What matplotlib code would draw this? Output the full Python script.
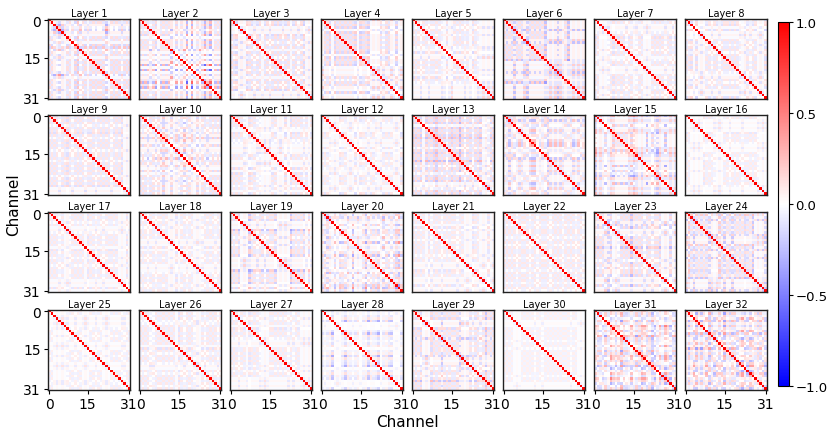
import numpy as np
import matplotlib
matplotlib.use("Agg")
import matplotlib.pyplot as plt

# ---- data ----
n_channels = 32
layer_names = [f"Layer {i}" for i in range(1, 33)]
tick_positions = [0, 15, 31]
tick_labels = ["0", "15", "31"]
cbar_ticks = [1.0, 0.5, 0.0, -0.5, -1.0]
cbar_labels = ["1.0", "0.5", "0.0", "\u22120.5", "\u22121.0"]

# per-layer strength of the off-diagonal texture (value of a unit loading product)
layer_strength = [0.20, 0.18, 0.19, 0.19, 0.15, 0.19, 0.15, 0.16,
                  0.16, 0.18, 0.15, 0.13, 0.19, 0.17, 0.17, 0.12,
                  0.13, 0.13, 0.17, 0.17, 0.13, 0.14, 0.18, 0.17,
                  0.11, 0.14, 0.13, 0.08, 0.17, 0.09, 0.12, 0.12]

# B=-2  b=-1  .=-0.5 (weak)  r=+1  R=+2
loading_u = [
    "r.rbBr.. r.bR.r.. .r.rr.B. r.r.b.r.",
    "r.r.b.r. .r.rR.r. rrB.R.rr .BrR..r.",
    "r.b.r.rr .b.r..r. r.r.b.r. .r.rb.r.",
    "rr.r.br. r.r.rr.b .rr.r.r. b.rr.r.r",
    ".r.b.r.r r.r..b.r .r.r.r.b r..r.r.r",
    "r.r.B.r. rB.r.r.r B.r.rBr. rB.r.r.r",
    "r..r.b.r .r.r.r.. b.r.r..r .r.b.r.r",
    ".rr.b.r. r.b.r.r. .r.r.b.r r.r..r.b",
    "r.r.b.rr .b.r.r.r r.b.r.r. .r.rb.r.",
    "r.r.r.b. rRr.b.r. rRr.r.b. .r.r.r.r",
    ".r.r.b.r r.b..r.r .r.r.r.b r.r.b..r",
    "r.r..r.b .r.r.b.r r.b.r..r .r.r.r.b",
    "r.rb.r.r bR.r.b.r .rBr.r.b r.r.rb.r",
    "r.B.r.rb .rrRRr.. rBr.r.rb .r.b.rr.",
    "r.r.b.rR .r.r.rRR r.r.B.rb .r.B.r.r",
    ".r.r.r.b r.r..r.r .b.r.r.r r.r.b.r.",
    "r.r.b..r .r.r.r.b r.b.r.r. .r..r.r.",
    ".r.b.r.r r.r.r.b. .r.r..r. b.r.r.r.",
    "r.rb.r.B .r.r.b.r rb.r.r.B .r.rb.r.",
    "r.Br.r.b .rr.B.r. rB.r.rb. Rr.b.Rr.",
    "r.r.r.b. .r.b.r.r r.r..r.b .r.r.r.r",
    ".r.r.b.r r.b.r.r. .r.r.r.b r.r.b.r.",
    "r.r.rBb. rb.r.rBr .r.b.r.r rb.r.b.r",
    "rR.B.r.r .Br.rR.B r.B.r.rb .rB.r.rB",
    "r..r.r.b .r.r..r. r.b.r.r. .r.r.b.r",
    ".r.r.b.r r.r.r..r .b.r.br. r.r.r.b.",
    "r.r.r..b .r.b.r.r r.r.r.b. .r..r.r.",
    "r.r.R.r. rR.r.r.. r.R.rrR. r.Rr.r.r",
    "r.rb.r.r .r.B.r.r r.Br.r.b .r.rBr.r",
    ".r.r.r.. r.r.b.r. .r.r.r.r r.b.r.r.",
    "rRrbBrRr RrBRrrRr BRrRRbrB rRbRrBrR",
    "rBrRbrBr RrbBrRrB rbRrBrRb BrRrbRrB",
]
loading_v = [
    ".rr.br.r ..r.b.r. r.r..rb. .r.r.r.r",
    ".r.r.rb. r.r.R.b. .rR.B..r rR.B.r.r",
    ".rr.r.b. r.r..r.b .r.r.r.. r.b.r.r.",
    "r.rb.r.r .r.r.b.r r.b.r.rr .r.r.b.r",
    "r.r.r.b. .r.b.r.r r.r.b..r .b.r.r.r",
    ".r.r.r.r r.r.r.r. r.r.r.r. .r.r.r.r",
    ".r.r..rb r.r.b.r. .r..r.r. r.r.r.b.",
    "r.b.r.r. .r.r.b.r r.r.r..r .b.r.r.r",
    ".r.r.r.b r.r.r.b. .r.r.r.r b.r.r.r.",
    ".r.b.r.r r.r.r.rb .r.rr.r. r.b.r.r.",
    "r.r.r..b .r.b.r.r r..r.b.r .r.r.r..",
    ".r.b.r.r r..r.r.b .r.r.b.r r.r..r.r",
    ".r.r.br. r.r.r.rb r.r.b.r. .rb.r.r.",
    ".r.rb.r. r.rrr..r b.r.r.r. r.rb.r.r",
    "R.r.r.r. r.r.rr.r r.r.r.b. Br.r.r.r",
    "r..r.r.r .r.b.r.. r.r.r.b. .r.r..r.",
    ".r.r.r.r b.r.r..r .r.r.b.r r.r.r.b.",
    "r.r.r.b. .r..r.r. r.b.r.r. .r.r.b.r",
    ".r.r.r.r r.b.r.r. .r.r.r.r r.r.r.b.",
    ".r.r.b.r r.r.r.r. .rb.r.r. r.r.r.Br",
    ".r.r..rb r.r.r.r. .b.r.r.r r..r.b.r",
    "r.r.r.r. .r.r.b.r r.b.r.r. .r.r.r.b",
    ".r.rr.r. r.r.r.r. r.r.r.b. .r.r.r.r",
    "r.r.r.r. r.r.r.r. .r.r.r.r r.r.r.r.",
    ".r.r.r.. r.b.r.r. .r.r..r. r.r.b.r.",
    "r.r.b.r. .r.r.r.b r.r.r.r. .b.r.r.r",
    ".r.b.r.r r.r..r.. .r.r.r.r b.r.r.r.",
    ".b.rB.r. .Br.b.r. .rBr.bB. .r.B.r.b",
    ".r.r.r.b r.r.r.r. .r.r.rr. r.b.r.r.",
    "r.r..r.r .r.r.r.b r.r.r.r. .r.r..r.",
    "r.b.r.Rr .rR.b.r. r.Rr.rB. .r.Rr.b.",
    ".r.rR.r. rBr.r.rR .r.b.rRr .Rr.r.r.",
]

code = {"B": -2.0, "b": -1.0, ".": -0.5, "r": 1.0, "R": 2.0}


def parse(s):
    return np.array([code[c] for c in s.replace(" ", "")])


def build_matrix(k):
    u = parse(loading_u[k])
    v = parse(loading_v[k])
    m = layer_strength[k] * 0.5 * (np.outer(u, v) + np.outer(v, u))
    m = np.clip(m, -0.6, 0.6)
    np.fill_diagonal(m, 1.0)
    return m


# ---- figure ----
W, H = 831, 439
fig = plt.figure(figsize=(W / 100, H / 100), dpi=100)

ax_w, ax_h = 82, 80
col_left = [48 + 91 * c for c in range(8)]
row_top = [20, 116, 213, 311]

im = None
for k in range(32):
    r, c = divmod(k, 8)
    left = col_left[c] / W
    bottom = 1 - (row_top[r] + ax_h) / H
    ax = fig.add_axes([left, bottom, ax_w / W, ax_h / H])
    im = ax.imshow(build_matrix(k), cmap="bwr", vmin=-1, vmax=1,
                   aspect="auto", interpolation="nearest")
    ax.set_title(layer_names[k], fontsize=7, pad=2.5)
    if c == 0:
        ax.set_yticks(tick_positions)
        ax.set_yticklabels(tick_labels, fontsize=10)
    else:
        ax.set_yticks([])
    if r == 3:
        ax.set_xticks(tick_positions)
        ax.set_xticklabels(tick_labels, fontsize=10)
    else:
        ax.set_xticks([])
    ax.tick_params(length=3, width=0.8, pad=2)
    for s in ax.spines.values():
        s.set_linewidth(1.0)
        s.set_edgecolor("#222222")

cax = fig.add_axes([778 / W, 1 - 387 / H, 11 / W, (387 - 23) / H])
cb = fig.colorbar(im, cax=cax, ticks=cbar_ticks)
cb.ax.tick_params(labelsize=9.5, length=3, pad=1.5)
cb.ax.set_yticklabels(cbar_labels)
cb.outline.set_linewidth(0.8)

fig.text(407 / W, 1 - 423 / H, "Channel", ha="center", va="center", fontsize=11)
fig.text(14 / W, 1 - 205 / H, "Channel", ha="center", va="center",
         rotation=90, fontsize=11)

fig.savefig("out.png", dpi=100)
